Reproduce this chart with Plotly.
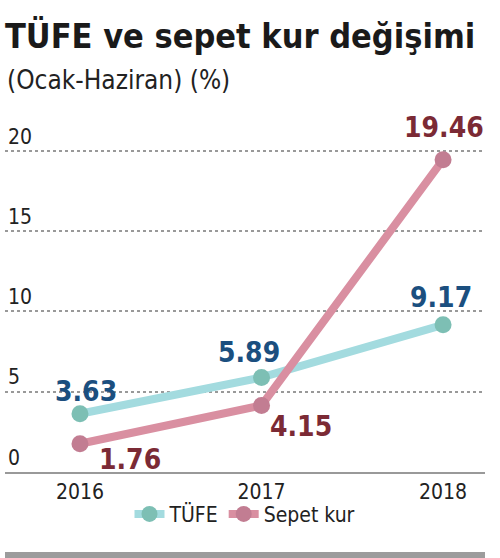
import plotly.graph_objects as go

# Data
years = [2016, 2017, 2018]
tufe = [3.63, 5.89, 9.17]
sepet_kur = [1.76, 4.15, 19.46]
y_ticks = [0, 5, 10, 15, 20]

FONT = "DejaVu Sans Condensed, Liberation Sans Narrow, Roboto, sans-serif"

fig = go.Figure()

# TÜFE line
fig.add_trace(go.Scatter(
    x=years, y=tufe, name="TÜFE", mode="lines+markers",
    line=dict(color="#a3dbdf", width=8),
    marker=dict(color="#7dbfb4", size=17),
    cliponaxis=False
))

# Sepet kur line
fig.add_trace(go.Scatter(
    x=years, y=sepet_kur, name="Sepet kur", mode="lines+markers",
    line=dict(color="#d98fa1", width=8),
    marker=dict(color="#c27d92", size=17),
    cliponaxis=False
))

# value labels (offsets in px relative to each point)
tufe_shift = [(6, 22), (-13, 25), (-2, 27)]
sepet_shift = [(50, -16), (39, -21), (1, 32)]
for xs, ys, shifts, col in [(years, tufe, tufe_shift, "#1b4f7f"),
                            (years, sepet_kur, sepet_shift, "#7b2a35")]:
    for x, y, (dx, dy) in zip(xs, ys, shifts):
        fig.add_annotation(
            x=x, y=y, text=f"{y:.2f}", showarrow=False,
            xshift=dx, yshift=dy,
            font=dict(family=FONT, size=28, color=col, weight="bold")
        )

# subtitle
fig.add_annotation(
    text="(Ocak-Haziran) (%)", xref="paper", yref="paper",
    x=0, y=1.1136, xanchor="left", yanchor="middle", showarrow=False,
    font=dict(family=FONT, size=26, color="#222222")
)

# grey bar at the bottom
fig.add_shape(type="rect", xref="paper", yref="paper",
              x0=0, x1=1, y0=-0.244, y1=-0.227,
              fillcolor="#9c9c9c", line_width=0)

fig.update_layout(
    width=500, height=558,
    margin=dict(l=5, r=15, t=120, b=86),
    paper_bgcolor="white", plot_bgcolor="white",
    font=dict(family=FONT, color="#222222"),
    title=dict(
        text="TÜFE ve sepet kur değişimi",
        x=0.01, xanchor="left", xref="container",
        y=0.957, yanchor="top", yref="container",
        font=dict(family=FONT, size=34, color="#1a1a1a", weight="bold")
    ),
    showlegend=True,
    legend=dict(orientation="h", x=0.5, xanchor="center",
                y=-0.12, yanchor="middle", bgcolor="rgba(0,0,0,0)",
                entrywidth=0, font=dict(family=FONT, size=21, color="#222222")),
)

fig.update_xaxes(
    range=[2015.587, 2018.231], tickvals=years,
    ticktext=[str(y) for y in years],
    tickfont=dict(size=21, color="#222222"),
    showgrid=False, zeroline=False,
    showline=True, linecolor="#999999", linewidth=2,
    ticks=""
)

fig.update_yaxes(
    range=[0, 21.93], tickvals=y_ticks,
    ticklabelposition="inside top", ticklabeloverflow="allow",
    tickfont=dict(size=21, color="#222222"),
    showgrid=True, gridcolor="#999999", griddash="dot", gridwidth=1.5,
    zeroline=False, showline=False, ticks=""
)

# drop the default page margin so the figure sits at the window corner
fig.write_html("out.html", config={"displayModeBar": False},
               post_script="document.body.style.margin='0';")
